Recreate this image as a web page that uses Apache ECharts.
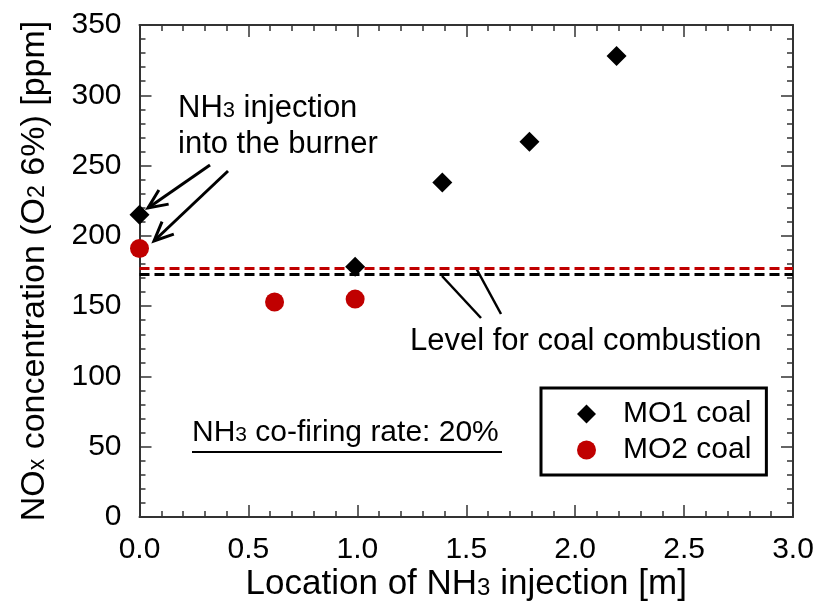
<!DOCTYPE html>
<html>
<head>
<meta charset="utf-8">
<script src="https://cdn.jsdelivr.net/npm/echarts@6/dist/echarts.min.js"></script>
<style>
  html, body { margin: 0; padding: 0; background: #fff; }
  #chart { width: 819px; height: 601px; }
</style>
</head>
<body>
<div id="chart"></div>
<script>
// NOx emission vs. NH3 injection location, 20% NH3 co-firing
const mo1X = [0.0, 0.99, 1.39, 1.79, 2.19];
const mo1Y = [215, 178, 238, 267, 328];
const mo2X = [0.0, 0.62, 0.99];
const mo2Y = [191, 153, 155];
// NOx level for pure coal combustion
const coalLevelMO1 = 173;
const coalLevelMO2 = 177;
const xTicks = [0, 0.5, 1.0, 1.5, 2.0, 2.5, 3.0];
const yTicks = [0, 50, 100, 150, 200, 250, 300, 350];

const FONT = 'Liberation Sans';
const RED = '#c00000';
const AXIS_COLOR = '#333';

const GRID = { left: 139.5, right: 26, top: 25, bottom: 84 };
const PLOT_W = 819 - GRID.left - GRID.right;
const PLOT_H = 601 - GRID.top - GRID.bottom;

const chart = echarts.init(document.getElementById('chart'), null, { renderer: 'canvas' });

function richPair(size, subSize, lh) {
  return {
    n: { fontSize: size, fontFamily: FONT, color: '#000', verticalAlign: 'bottom', lineHeight: lh },
    s: { fontSize: subSize, fontFamily: FONT, color: '#000', verticalAlign: 'bottom', lineHeight: lh, padding: [0, 0, 2, 0] }
  };
}

const gridBox = Object.assign({ containLabel: false, outerBoundsMode: 'none' }, GRID);

// Grid 0 holds the frame, labels and data. Grids 1 (major) and 2 (minor) share its box
// and only draw ticks: each tick axis sits on the opposite side and is shifted across
// the plot onto the frame line, so its outward ticks point into the plot.
function xAxisDef(gridIndex, pos, step, extra) {
  return Object.assign({
    type: 'value', gridIndex: gridIndex, position: pos,
    min: xTicks[0], max: xTicks[xTicks.length - 1], interval: step,
    axisLine: { show: gridIndex === 0, onZero: false, lineStyle: { color: AXIS_COLOR, width: 2 } },
    axisTick: { show: false },
    axisLabel: { show: false },
    splitLine: { show: false }
  }, extra || {});
}
function yAxisDef(gridIndex, pos, step, extra) {
  return Object.assign({
    type: 'value', gridIndex: gridIndex, position: pos,
    min: yTicks[0], max: yTicks[yTicks.length - 1], interval: step,
    axisLine: { show: gridIndex === 0, onZero: false, lineStyle: { color: AXIS_COLOR, width: 2 } },
    axisTick: { show: false },
    axisLabel: { show: false },
    splitLine: { show: false }
  }, extra || {});
}
const tickStyle = len => ({ show: true, inside: false, length: len, lineStyle: { color: AXIS_COLOR, width: 1.5 } });
function tickX(gridIndex, pos, step, len) {
  return xAxisDef(gridIndex, pos, step, { offset: -PLOT_H, axisTick: tickStyle(len) });
}
function tickY(gridIndex, pos, step, len) {
  return yAxisDef(gridIndex, pos, step, { offset: -PLOT_W, axisTick: tickStyle(len) });
}

function arrow(x1, y1, x2, y2, headLen, spread) {
  const ang = Math.atan2(y2 - y1, x2 - x1);
  const a1 = ang + Math.PI - spread, a2 = ang + Math.PI + spread;
  return [
    { type: 'line', shape: { x1: x1, y1: y1, x2: x2, y2: y2 }, style: { stroke: '#000', lineWidth: 3 } },
    { type: 'polyline', shape: { points: [
        [x2 + headLen * Math.cos(a1), y2 + headLen * Math.sin(a1)],
        [x2, y2],
        [x2 + headLen * Math.cos(a2), y2 + headLen * Math.sin(a2)]
      ] }, style: { stroke: '#000', lineWidth: 3, fill: null } }
  ];
}

const option = {
  animation: false,
  backgroundColor: '#fff',
  textStyle: { fontFamily: FONT, color: '#000' },
  grid: [Object.assign({}, gridBox), Object.assign({}, gridBox), Object.assign({}, gridBox)],
  xAxis: [
    xAxisDef(0, 'bottom', 0.5, {
      axisLabel: { show: true, fontSize: 30, color: '#000', fontFamily: FONT, margin: 18, formatter: v => v.toFixed(1) },
      name: '{n|Location of NH}{s|3}{n| injection [m]}',
      nameLocation: 'middle', nameGap: 47, nameMoveOverlap: false,
      nameTextStyle: { rich: richPair(35, 24, 38) }
    }),
    xAxisDef(0, 'top', 0.5),
    tickX(1, 'top', 0.5, 12),     // major ticks on the bottom frame line
    tickX(1, 'bottom', 0.5, 12),  // major ticks on the top frame line
    tickX(2, 'top', 0.1, 6),      // minor ticks, bottom
    tickX(2, 'bottom', 0.1, 6)    // minor ticks, top
  ],
  yAxis: [
    yAxisDef(0, 'left', 50, {
      axisLabel: { show: true, fontSize: 30, color: '#000', fontFamily: FONT, margin: 18, padding: [0, 0, 12, 0] },
      name: '{n|NO}{s|x}{n| concentration (O}{s|2}{n| 6%) [ppm]}',
      nameLocation: 'middle', nameGap: 88, nameRotate: 90, nameMoveOverlap: false,
      nameTextStyle: { rich: richPair(34, 23, 38) }
    }),
    yAxisDef(0, 'right', 50),
    tickY(1, 'right', 50, 12),    // major ticks on the left frame line
    tickY(1, 'left', 50, 12),     // major ticks on the right frame line
    tickY(2, 'right', 10, 6),     // minor ticks, left
    tickY(2, 'left', 10, 6)       // minor ticks, right
  ],
  legend: {
    orient: 'vertical', left: 541, top: 388,
    borderColor: '#000', borderWidth: 3, borderRadius: 0,
    padding: [11, 15, 10, 36], itemGap: 6, itemWidth: 19, itemHeight: 19,
    textStyle: { fontSize: 30, color: '#000', fontFamily: FONT, padding: [0, 0, 0, 22] },
    data: [{ name: 'MO1 coal', icon: 'diamond' }, { name: 'MO2 coal', icon: 'circle' }]
  },
  series: [
    {
      name: 'MO1 coal', type: 'scatter', xAxisIndex: 0, yAxisIndex: 0,
      symbol: 'diamond', symbolSize: [20, 20],
      itemStyle: { color: '#000', opacity: 1 }, z: 5,
      data: mo1X.map((x, i) => [x, mo1Y[i]]),
      markLine: {
        silent: true, symbol: 'none', label: { show: false }, z: 2,
        lineStyle: { color: '#000', type: [10, 5], width: 3, opacity: 1 },
        data: [{ yAxis: coalLevelMO1 }]
      }
    },
    {
      name: 'MO2 coal', type: 'scatter', xAxisIndex: 0, yAxisIndex: 0,
      symbol: 'circle', symbolSize: 19,
      itemStyle: { color: RED, opacity: 1 }, z: 5,
      data: mo2X.map((x, i) => [x, mo2Y[i]]),
      markLine: {
        silent: true, symbol: 'none', label: { show: false }, z: 2,
        lineStyle: { color: RED, type: [10, 5], width: 3, opacity: 1 },
        data: [{ yAxis: coalLevelMO2 }]
      }
    }
  ],
  graphic: [
    { type: 'text', left: 178, top: 93, style: { text: '{n|NH}{s|3}{n| injection}\n{n|into the burner}', rich: richPair(31, 22, 36), fill: '#000' } },
    ...arrow(210, 165, 148, 208, 21, 0.42),
    ...arrow(228, 171, 154, 241, 21, 0.42),
    { type: 'text', left: 410, top: 326, style: { text: 'Level for coal combustion', font: '31px "' + FONT + '"', fill: '#000' } },
    { type: 'line', shape: { x1: 442, y1: 276, x2: 481, y2: 318 }, style: { stroke: '#000', lineWidth: 2.5 } },
    { type: 'line', shape: { x1: 476, y1: 268, x2: 501, y2: 314 }, style: { stroke: '#000', lineWidth: 2.5 } },
    { type: 'text', left: 192, top: 418, style: { text: '{n|NH}{s|3}{n| co-firing rate: 20%}', rich: richPair(30, 21, 36), fill: '#000' } },
    { type: 'line', shape: { x1: 192, y1: 452, x2: 502, y2: 452 }, style: { stroke: '#000', lineWidth: 2 } }
  ]
};

chart.setOption(option);
</script>
</body>
</html>
